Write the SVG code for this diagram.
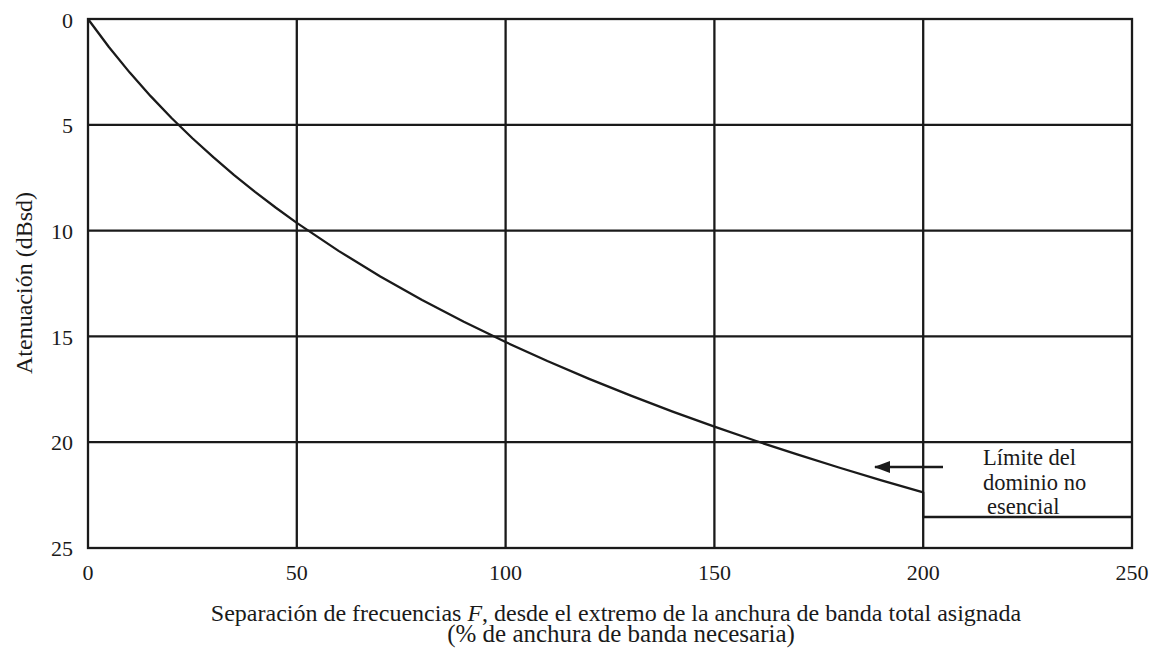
<svg xmlns="http://www.w3.org/2000/svg" width="1153" height="649" viewBox="0 0 1153 649">
<style>
.g{stroke:#1a1a1a;stroke-width:2.3;fill:none}
.c{stroke:#1a1a1a;stroke-width:2.3;fill:none;stroke-linejoin:round}
.t{font-family:'Liberation Serif','Times New Roman',Times,serif;fill:#1a1a1a;font-size:22px}
.yt{text-anchor:end}
.xt{text-anchor:middle}
</style>
<defs>
<marker id="ah" viewBox="0 0 16 12" refX="15" refY="6" markerWidth="16" markerHeight="12" markerUnits="userSpaceOnUse" orient="auto">
<path d="M0,0 L16,6 L0,12 Z" fill="#1a1a1a"/>
</marker>
</defs>
<rect width="1153" height="649" fill="#ffffff"/>
<g id="grid">
<rect class="g" x="88" y="19" width="1044" height="529"/>
<line class="g" x1="296.8" y1="19" x2="296.8" y2="548"/>
<line class="g" x1="505.6" y1="19" x2="505.6" y2="548"/>
<line class="g" x1="714.4" y1="19" x2="714.4" y2="548"/>
<line class="g" x1="923.2" y1="19" x2="923.2" y2="548"/>
<line class="g" x1="88" y1="124.8" x2="1132" y2="124.8"/>
<line class="g" x1="88" y1="230.6" x2="1132" y2="230.6"/>
<line class="g" x1="88" y1="336.4" x2="1132" y2="336.4"/>
<line class="g" x1="88" y1="442.2" x2="1132" y2="442.2"/>
</g>
<g id="y-ticks" class="t">
<text class="yt" x="73" y="28">0</text>
<text class="yt" x="73" y="133">5</text>
<text class="yt" x="73" y="239">10</text>
<text class="yt" x="73" y="345">15</text>
<text class="yt" x="73" y="450">20</text>
<text class="yt" x="73" y="556">25</text>
</g>
<g id="x-ticks" class="t">
<text class="xt" x="88" y="580">0</text>
<text class="xt" x="296.8" y="580">50</text>
<text class="xt" x="505.6" y="580">100</text>
<text class="xt" x="714.4" y="580">150</text>
<text class="xt" x="923.2" y="580">200</text>
<text class="xt" x="1132" y="580">250</text>
</g>
<g id="y-title" class="t" style="font-size:24px">
<text transform="translate(32,283) rotate(-90)" text-anchor="middle">Atenuación (dBsd)</text>
</g>
<g id="x-title" class="t" style="font-size:24px">
<text x="616" y="621" text-anchor="middle">Separación de frecuencias <tspan font-style="italic">F</tspan>, desde el extremo de la anchura de banda total asignada</text>
<text x="621" y="642" text-anchor="middle" style="font-size:25px">(% de anchura de banda necesaria)</text>
</g>
<g id="curve">
<path class="c" d="M88,19 L108.88,47.03 L129.76,72.61 L150.64,96.15 L171.52,117.95 L192.4,138.23 L213.28,157.21 L234.16,175.04 L255.04,191.85 L275.92,207.75 L296.8,222.83 L338.56,250.86 L380.32,276.45 L422.08,299.98 L463.84,321.78 L505.6,342.07 L547.36,361.05 L589.12,378.87 L630.88,395.68 L672.64,411.58 L714.4,426.67 L756.16,441.01 L797.92,454.69 L839.68,467.77 L881.44,480.28 L923.2,492.29 L923.2,517 L1132,517"/>
</g>
<g id="connectors">
<line x1="943" y1="467" x2="875" y2="467" stroke="#1a1a1a" stroke-width="2.7" marker-end="url(#ah)"/>
</g>
<g id="label" class="t" style="font-size:22.5px">
<text x="983" y="465">Límite del</text>
<text x="983" y="490">dominio no</text>
<text x="987" y="514">esencial</text>
</g>
</svg>
